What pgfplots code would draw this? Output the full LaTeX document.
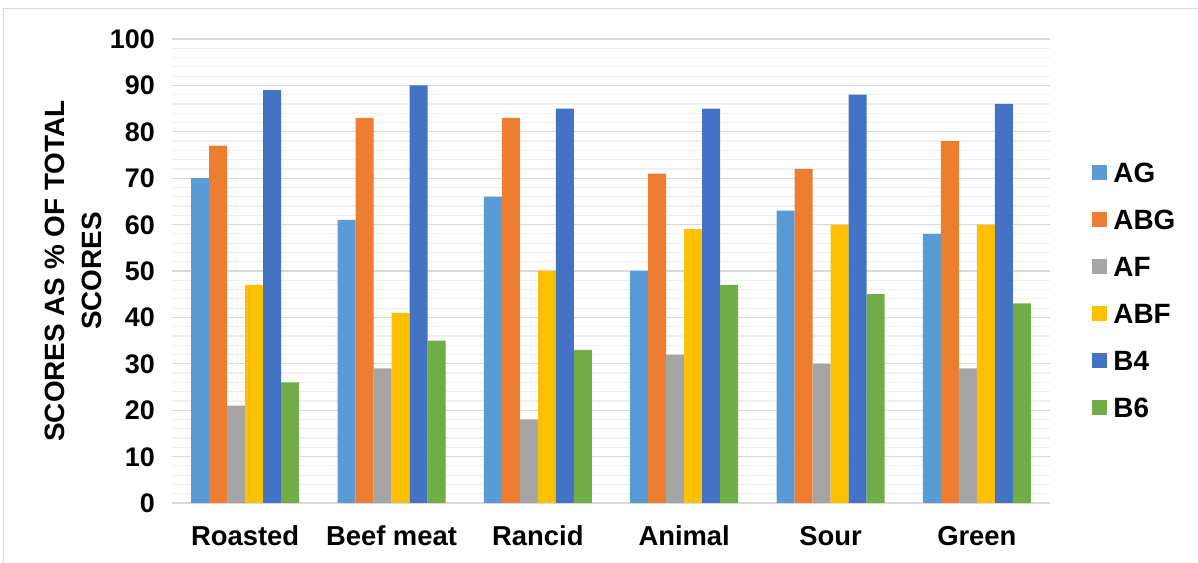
\documentclass[border=0pt]{standalone}
\usepackage{pgfplots}
\pgfplotsset{compat=1.18}
\usepackage{pgfplotstable}
\usepackage{fontspec}
\setmainfont{Liberation Sans}
\definecolor{cAG}{HTML}{5B9BD5}
\definecolor{cABG}{HTML}{ED7D31}
\definecolor{cAF}{HTML}{A5A5A5}
\definecolor{cABF}{HTML}{FFC000}
\definecolor{cBfour}{HTML}{4472C4}
\definecolor{cBsix}{HTML}{70AD47}
\definecolor{majgrid}{HTML}{D9D9D9}
\definecolor{mingrid}{HTML}{F0F0F0}
\pgfplotstableread{
x AG ABG AF ABF B4 B6
0 70 77 21 47 89 26
1 61 83 29 41 90 35
2 66 83 18 50 85 33
3 50 71 32 59 85 47
4 63 72 30 60 88 45
5 58 78 29 60 86 43
}\datatable
\begin{document}
\begin{tikzpicture}[x=1bp,y=1bp]
\useasboundingbox (0,0) rectangle (1198,563);
\draw[majgrid,line width=1bp] (3.5,-20) -- (3.5,554) -- (1230,554);
\begin{axis}[
  at={(172bp,60bp)}, anchor=south west,
  width=878bp, height=464bp, scale only axis,
  ybar=0pt, bar width=0.123,
  xmin=-0.5, xmax=5.5, ymin=0, ymax=100,
  xtick=data,
  xticklabels={Roasted,Beef meat,Rancid,Animal,Sour,Green},
  ytick={0,10,...,100},
  minor ytick={0,2,...,100},
  ymajorgrids, yminorgrids,
  major grid style={majgrid, line width=1.2bp},
  minor grid style={mingrid, line width=1.2bp},
  axis line style={draw=none},
  major tick length=0pt, minor tick length=0pt,
  /pgf/number format/assume math mode=true,
  yticklabel style={font=\fontsize{27}{30}\selectfont\bfseries, inner sep=0pt, anchor=base east, xshift=-17bp, yshift=-9.5bp},
  xticklabel style={font=\fontsize{27.5}{30}\selectfont\bfseries, inner sep=0pt, anchor=base, yshift=-43bp},
  ylabel={SCORES AS \% OF TOTAL\\SCORES},
  ylabel style={at={(axis description cs:-0.1122,0.5)}, anchor=center, rotate=0, align=center, font=\fontsize{28}{37}\selectfont\bfseries, inner sep=0pt},
  legend style={at={(axis description cs:1.048,0.46)}, anchor=west, draw=none, fill=none,
    font=\fontsize{28}{30}\selectfont\bfseries, row sep=27bp, column sep=6bp, inner sep=0pt,
    nodes={inner sep=0pt, text height=20bp, text depth=0pt}},
  legend cell align=left,
  legend image code/.code={\fill[#1] (0bp,-7.5bp) rectangle (15bp,7.5bp);},
  clip=false,
]
\addplot[fill=cAG, draw=none] table[x=x,y=AG] {\datatable};
\addplot[fill=cABG, draw=none] table[x=x,y=ABG] {\datatable};
\addplot[fill=cAF, draw=none] table[x=x,y=AF] {\datatable};
\addplot[fill=cABF, draw=none] table[x=x,y=ABF] {\datatable};
\addplot[fill=cBfour, draw=none] table[x=x,y=B4] {\datatable};
\addplot[fill=cBsix, draw=none] table[x=x,y=B6] {\datatable};
\legend{AG,ABG,AF,ABF,B4,B6}
\end{axis}
\end{tikzpicture}
\end{document}
